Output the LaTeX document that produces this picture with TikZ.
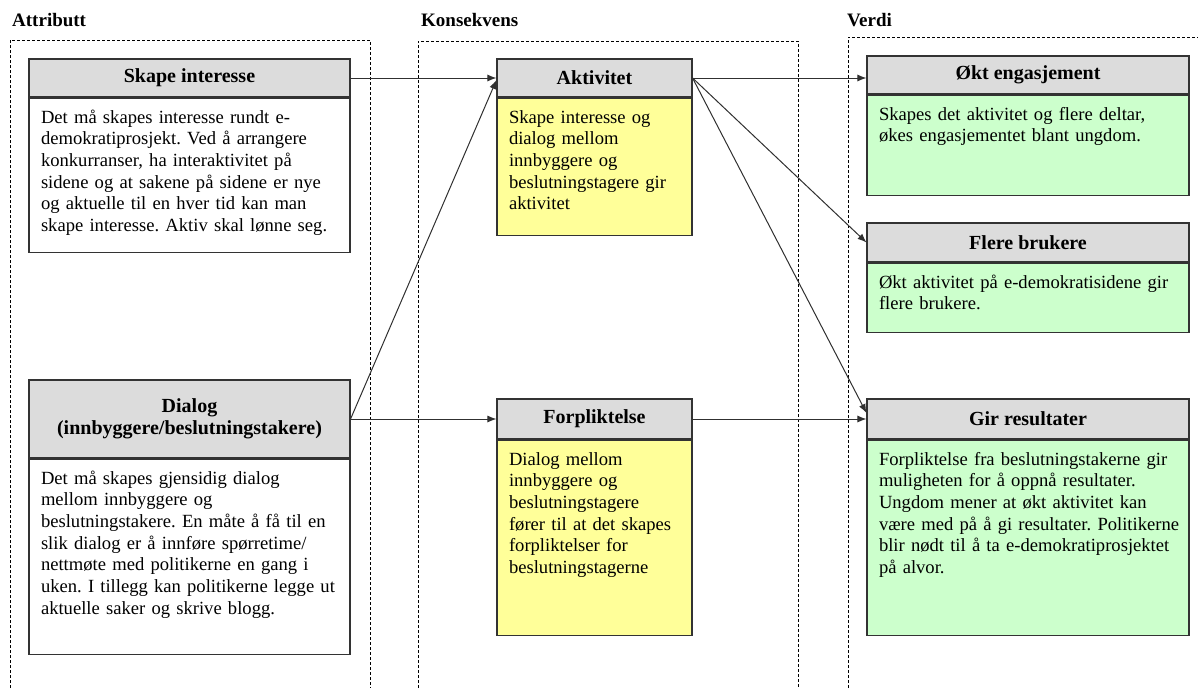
\documentclass[tikz,border=0pt]{standalone}
\usepackage{fontspec}
\setmainfont{Liberation Serif}
\usepackage{xcolor}
\usepackage{tikz}
\usetikzlibrary{positioning,calc,arrows.meta}

\definecolor{boxline}{HTML}{333333}
\definecolor{hdrgray}{HTML}{DCDCDC}
\definecolor{konsyellow}{HTML}{FFFF99}
\definecolor{verdigreen}{HTML}{CCFFCC}
\definecolor{linegray}{HTML}{303030}

\newcommand{\bodyfont}{\fontsize{18.6}{21.7}\selectfont\frenchspacing\hyphenpenalty=10000\relax}

\tikzset{
	colframe/.style={dash pattern=on 3pt off 2pt,line width=0.9pt,black},
	coltitle/.style={anchor=base west,inner sep=0pt,font=\fontsize{19}{21}\selectfont\bfseries},
	hdr/.style={draw=boxline,line width=1.1pt,fill=hdrgray,align=center,inner sep=0pt,
		minimum height=38pt,font=\fontsize{20}{22}\selectfont\bfseries},
	txt/.style={draw=boxline,line width=1.1pt,anchor=north,align=left,inner xsep=12pt,inner ysep=0pt,
		text height=25pt,font=\bodyfont},
	conn/.style={-{Latex[length=9pt,width=7pt]},draw=linegray,line width=1pt}
}

\begin{document}
\begin{tikzpicture}[x=1pt,y=-1pt]
	\useasboundingbox (0,0) rectangle (1198,688);
	% column frames
	\draw[colframe] (10,688) -- (10,40) -- (370,40) -- (370,688);
	\draw[colframe] (418,688) -- (418,41) -- (798,41) -- (798,688);
	\draw[colframe] (848,688) -- (848,37) -- (1198,37);
	\node[coltitle] (attr-title) at (12,27) {Attributt};
	\node[coltitle] (kons-title) at (421,27) {Konsekvens};
	\node[coltitle] (verdi-title) at (847,27) {Verdi};

	% Attributt
	\node[hdr,minimum width=321pt] (si-head) at (189.5,78) {Skape interesse};
	\node[txt,text width=297pt,text depth=129pt,below=0pt of si-head] (si-body) {Det må skapes interesse rundt e-\\demokratiprosjekt. Ved å arrangere\\konkurranser, ha interaktivitet på\\sidene og at sakene på sidene er nye\\og aktuelle til en hver tid kan man\\skape interesse. Aktiv skal lønne seg.};
	\node[hdr,minimum width=321pt,minimum height=78pt] (di-head) at (189.5,419) {Dialog\\(innbyggere/beslutningstakere)};
	\node[txt,text width=297pt,text depth=170pt,below=0pt of di-head] (di-body) {Det må skapes gjensidig dialog\\mellom innbyggere og\\beslutningstakere. En måte å få til en\\slik dialog er å innføre spørretime/\\nettmøte med politikerne en gang i\\uken. I tillegg kan politikerne legge ut\\aktuelle saker og skrive blogg.};

	% Konsekvens
	\node[hdr,minimum width=195pt] (akt-head) at (594.5,78) {Aktivitet};
	\node[txt,fill=konsyellow,text width=171pt,text depth=112pt,below=0pt of akt-head] (akt-body) {Skape interesse og\\dialog mellom\\innbyggere og\\beslutningstagere gir\\aktivitet};
	\node[hdr,minimum width=195pt,minimum height=40pt] (fp-head) at (594.5,419) {Forpliktelse};
	\node[txt,fill=konsyellow,text width=171pt,text depth=170pt,below=0pt of fp-head] (fp-body) {Dialog mellom\\innbyggere og\\beslutningstagere\\fører til at det skapes\\forpliktelser for\\beslutningstagerne};

	% Verdi
	\node[hdr,minimum width=322pt] (okt-head) at (1028,75) {Økt engasjement};
	\node[txt,fill=verdigreen,text width=298pt,text depth=75pt,below=0pt of okt-head] (okt-body) {Skapes det aktivitet og flere deltar,\\økes engasjementet blant ungdom.};
	\node[hdr,minimum width=322pt,minimum height=39pt] (fb-head) at (1028,242.5) {Flere brukere};
	\node[txt,fill=verdigreen,text width=298pt,text depth=44pt,below=0pt of fb-head] (fb-body) {Økt aktivitet på e-demokratisidene gir\\flere brukere.};
	\node[hdr,minimum width=322pt,minimum height=40pt] (gr-head) at (1028,419) {Gir resultater};
	\node[txt,fill=verdigreen,text width=298pt,text depth=170pt,below=0pt of gr-head] (gr-body) {Forpliktelse fra beslutningstakerne gir\\muligheten for å oppnå resultater.\\Ungdom mener at økt aktivitet kan\\\makebox[\linewidth][l]{være med på å gi resultater. Politikerne}\\blir nødt til å ta e-demokratiprosjektet\\på alvor.};

	% arrows
	\draw[conn] (si-head.east) -- (akt-head.west);
	\draw[conn] (di-head.east) -- ($(akt-head.west)+(0,2)$);
	\draw[conn] (di-head.east) -- (fp-head.west);
	\draw[conn] (akt-head.east) -- (akt-head.east -| okt-head.west);
	\draw[conn] (akt-head.east) -- (fb-head.west);
	\draw[conn] (akt-head.east) -- ($(gr-head.west)+(0,-6)$);
	\draw[conn] (fp-head.east) -- (gr-head.west);
\end{tikzpicture}
\end{document}
